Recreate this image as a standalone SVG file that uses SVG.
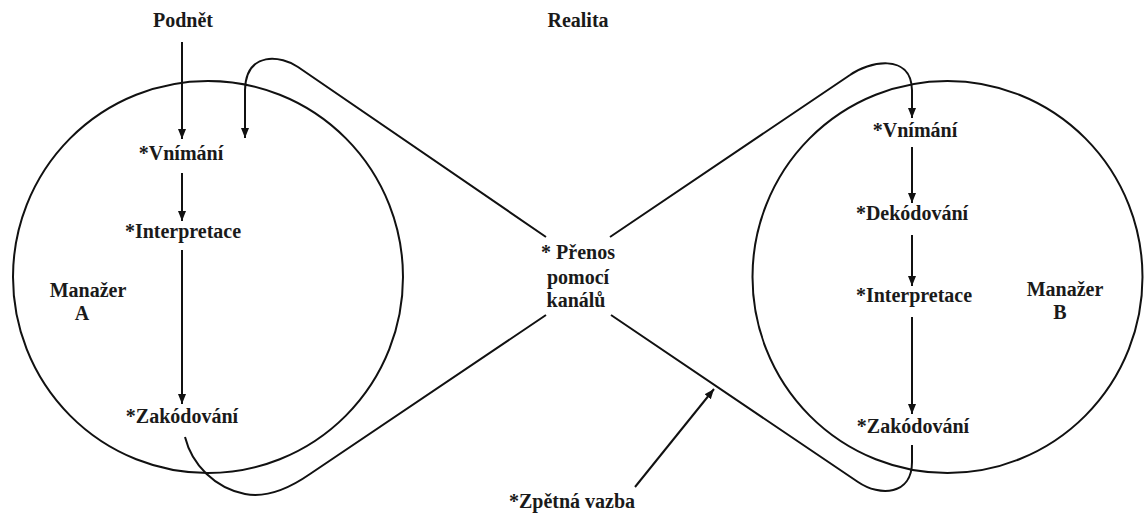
<svg xmlns="http://www.w3.org/2000/svg" width="1144" height="513" viewBox="0 0 1144 513">
<defs>
<marker id="ah" markerWidth="10" markerHeight="10" viewBox="0 0 10 10" refX="10" refY="5" orient="auto" markerUnits="userSpaceOnUse">
<path d="M0,1 L10,5 L0,9 Z" fill="#111"/>
</marker>
<style>
text{font-family:'Liberation Serif','DejaVu Serif',serif;font-weight:bold;font-size:20px;fill:#1a1a1a;text-anchor:middle}
.c{fill:none;stroke:#111;stroke-width:2}
.l{fill:none;stroke:#111;stroke-width:2}
.a{fill:none;stroke:#111;stroke-width:2;marker-end:url(#ah)}
</style>
</defs>
<rect width="1144" height="513" fill="#fff"/>
<g font-family="Liberation Serif, serif">
<g id="manazerA">
<ellipse class="c" cx="208" cy="277" rx="195" ry="196"/>
<text x="88" y="297">Manažer</text>
<text x="82" y="320">A</text>
</g>
<g id="manazerB">
<ellipse class="c" cx="947.5" cy="277" rx="195" ry="196"/>
<text x="1065" y="296">Manažer</text>
<text x="1060" y="319">B</text>
</g>
<g id="podnet"><text x="183" y="27">Podnět</text></g>
<g id="realita"><text x="578" y="27">Realita</text></g>
<g id="a-vnimani"><text x="181" y="160">*Vnímání</text></g>
<g id="a-interpretace"><text x="183" y="238">*Interpretace</text></g>
<g id="a-zakodovani"><text x="182" y="423">*Zakódování</text></g>
<g id="prenos">
<text x="578" y="259">* Přenos</text>
<text x="578" y="284">pomocí</text>
<text x="576" y="307">kanálů</text>
</g>
<g id="b-vnimani"><text x="915" y="137">*Vnímání</text></g>
<g id="b-dekodovani"><text x="912" y="220">*Dekódování</text></g>
<g id="b-interpretace"><text x="914" y="302">*Interpretace</text></g>
<g id="b-zakodovani"><text x="913" y="433">*Zakódování</text></g>
<g id="zpetna-vazba"><text x="572" y="508">*Zpětná vazba</text></g>
</g>
<g id="connectors">
<path class="a" d="M182,42 L182,139"/>
<path class="a" d="M182,173 L182,221"/>
<path class="a" d="M182,250 L182,404"/>
<path class="a" d="M546,237 L298,67 C282,56 246,50 245,90 L245,138"/>
<path class="l" d="M546,315 L310,474 C287,490 266,498 245,494 C215,488 192,465 185,437"/>
<path class="a" d="M610,237 L850,75 C868,62 911,52 912,90 L912,118"/>
<path class="l" d="M611,315 L858,482 C880,497 912,495 912,462 L912,445"/>
<path class="a" d="M912,147 L912,203"/>
<path class="a" d="M912,235 L912,286"/>
<path class="a" d="M912,317 L912,414"/>
<path class="a" d="M635,487 L714,389"/>
</g>
</svg>
